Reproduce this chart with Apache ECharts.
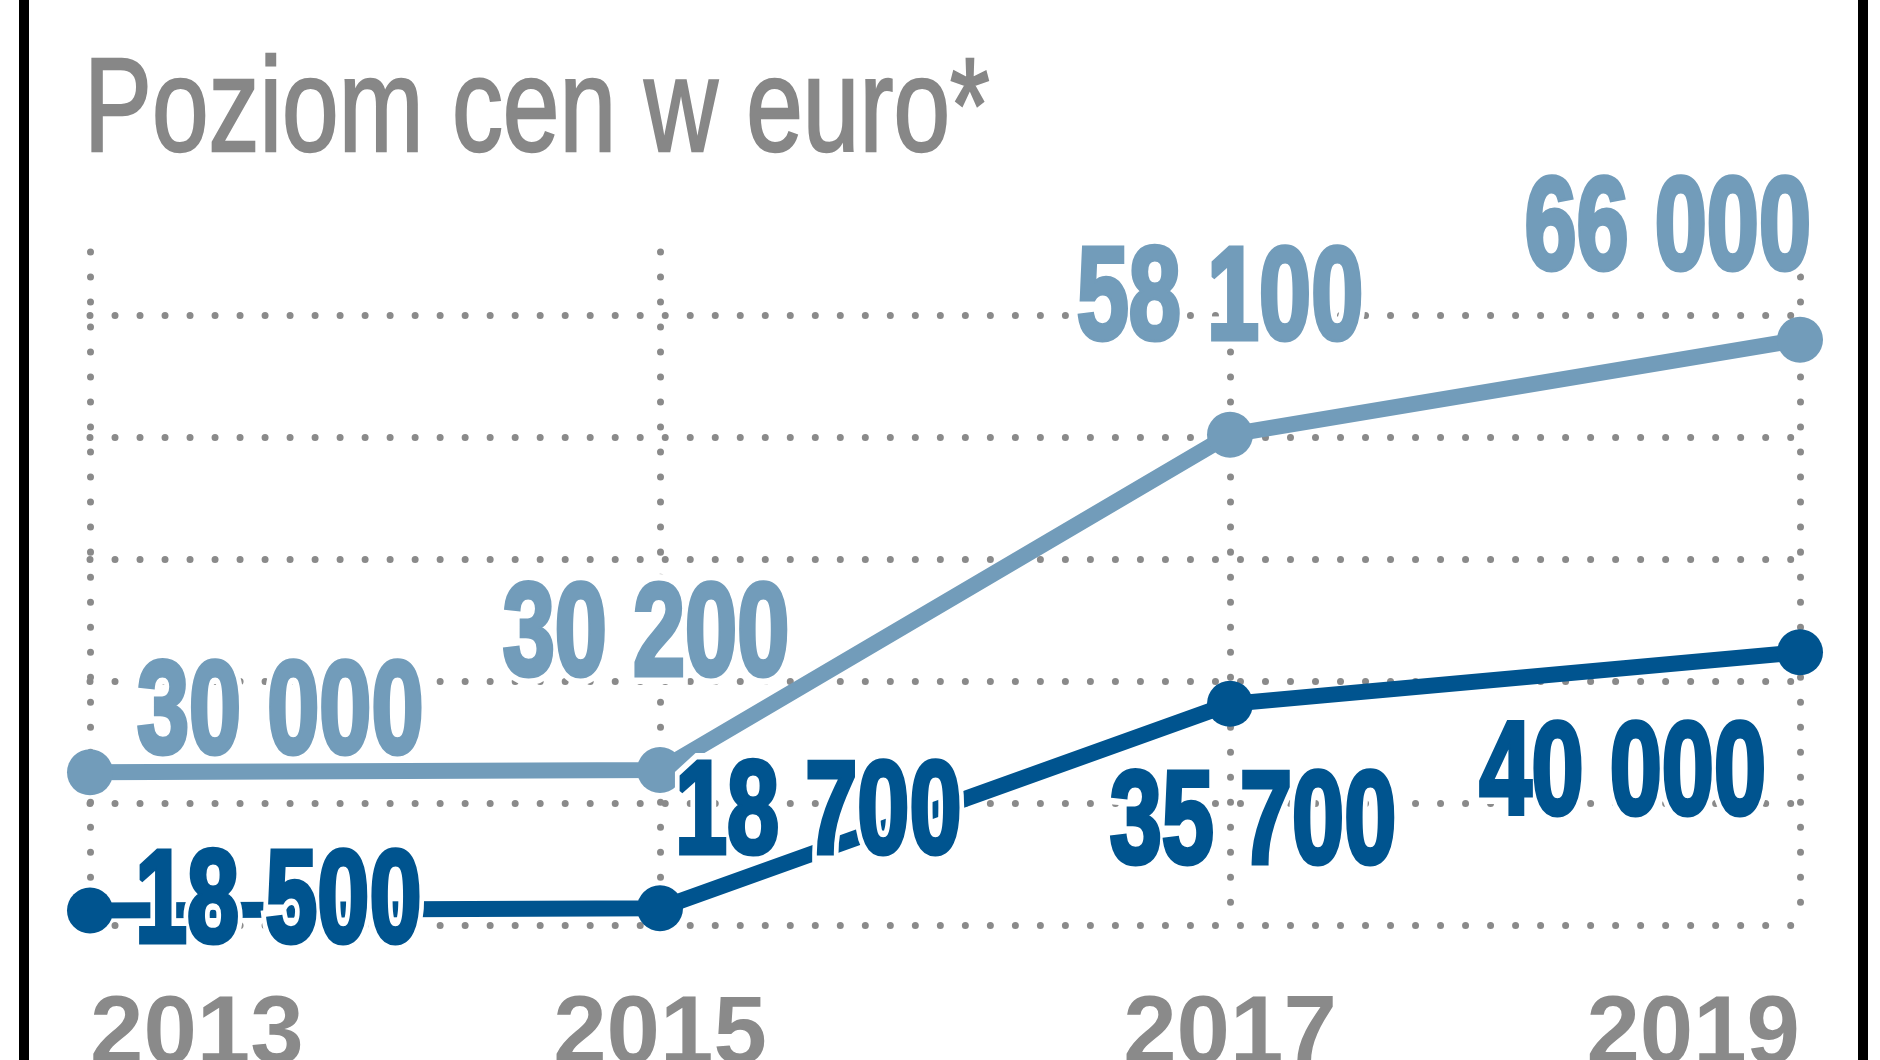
<!DOCTYPE html>
<html>
<head>
<meta charset="utf-8">
<script src="https://cdn.jsdelivr.net/npm/echarts@6/dist/echarts.min.js"></script>
<style>html,body{margin:0;padding:0;background:#fff;}#c{width:1880px;height:1060px;}</style>
</head>
<body>
<div id="c"></div>
<script>
// ---- data ----
const years = ['2013', '2015', '2017', '2019'];
const lightValues = [30000, 30200, 58100, 66000];
const darkValues = [18500, 18700, 35700, 40000];
const titleText = 'Poziom cen w euro*';

// ---- styles ----
const LIGHT = '#729cba';
const DARK = '#00548f';
const GRAY = '#8a8a8a';

// label placement relative to the point (layout only)
const lightLabelLayout = [
  {align: 'left', dx: 47, dy: -55},
  {align: 'center', dx: -14, dy: -131},
  {align: 'center', dx: -10, dy: -132},
  {align: 'right', dx: 11, dy: -107}
];
const darkLabelLayout = [
  {align: 'left', dx: 45, dy: -5},
  {align: 'left', dx: 15, dy: -91},
  {align: 'center', dx: 23, dy: 123},
  {align: 'right', dx: -34, dy: 126}
];

function fmt(v) { return String(v).replace(/\B(?=(\d{3})+(?!\d))/g, ' '); }

const LABEL_FONT = 'bold 131px "Liberation Sans", Arial, sans-serif';
const LABEL_SCALE = 0.715;

function labelRenderer(values, layout, color) {
  return function (params, api) {
    const p = api.coord([api.value(0), api.value(1)]);
    const L = layout[params.dataIndex];
    const txt = fmt(values[params.dataIndex]);
    const x = p[0] + L.dx, y = p[1] + L.dy;
    return {
      type: 'group',
      children: [
        {type: 'text', x: x, y: y, scaleX: LABEL_SCALE, style: {text: txt, font: LABEL_FONT, fill: '#fff', stroke: '#fff', lineWidth: 18, lineJoin: 'round', align: L.align, verticalAlign: 'middle'}},
        {type: 'text', x: x, y: y, scaleX: LABEL_SCALE, style: {text: txt, font: LABEL_FONT, fill: color, stroke: color, lineWidth: 5, lineJoin: 'round', align: L.align, verticalAlign: 'middle'}}
      ]
    };
  };
}

const chart = echarts.init(document.getElementById('c'), null, {renderer: 'canvas'});
const dotted = {color: GRAY, width: 7, type: [0.01, 25], cap: 'round'};

chart.setOption({
  backgroundColor: '#fff',
  animation: false,
  grid: {left: 90, right: 80, top: 252, bottom: 135, containLabel: false, outerBoundsMode: 'none'},
  xAxis: {
    type: 'category', data: years, boundaryGap: false,
    axisLine: {show: false}, axisTick: {show: false},
    splitLine: {show: true, lineStyle: dotted},
    axisLabel: {
      show: true, margin: 64, color: GRAY, fontSize: 96, fontWeight: 'bold',
      fontFamily: '"Liberation Sans", Arial, sans-serif',
      alignMinLabel: 'left', alignMaxLabel: 'right'
    }
  },
  yAxis: [
    {type: 'value', min: 17300, max: 73300, show: false, splitLine: {show: false}},
    {type: 'value', min: 0, max: 5.516, interval: 1, position: 'left',
     axisLine: {show: false}, axisTick: {show: false}, axisLabel: {show: false},
     splitLine: {show: true, showMaxLine: false,
       lineStyle: Object.assign({}, dotted, {color: [GRAY, GRAY, GRAY, GRAY, GRAY, GRAY, 'rgba(0,0,0,0)']})}}
  ],
  graphic: [
    {type: 'rect', left: 19, top: 0, shape: {width: 10, height: 1060}, style: {fill: '#000'}, z: 100},
    {type: 'rect', left: 1858, top: 0, shape: {width: 10, height: 1060}, style: {fill: '#000'}, z: 100},
    {type: 'text', x: 84, y: 114, scaleX: 0.76, style: {text: titleText, font: '134px "Liberation Sans", Arial, sans-serif', fill: '#878787', stroke: '#878787', lineWidth: 2.5, lineJoin: 'round', verticalAlign: 'middle'}, z: 100}
  ],
  series: [
    {type: 'line', name: 'light', yAxisIndex: 0, data: lightValues, color: LIGHT,
     lineStyle: {width: 16, color: LIGHT}, symbol: 'circle', symbolSize: 46, showAllSymbol: true,
     itemStyle: {color: LIGHT}, z: 3},
    {type: 'line', name: 'dark', yAxisIndex: 0, data: darkValues, color: DARK,
     lineStyle: {width: 16, color: DARK}, symbol: 'circle', symbolSize: 46, showAllSymbol: true,
     itemStyle: {color: DARK}, z: 4},
    {type: 'custom', name: 'lightLabels', yAxisIndex: 0, z: 10, silent: true,
     data: lightValues.map((v, i) => [i, v]), renderItem: labelRenderer(lightValues, lightLabelLayout, LIGHT)},
    {type: 'custom', name: 'darkLabels', yAxisIndex: 0, z: 11, silent: true,
     data: darkValues.map((v, i) => [i, v]), renderItem: labelRenderer(darkValues, darkLabelLayout, DARK)}
  ]
});
</script>
</body>
</html>
